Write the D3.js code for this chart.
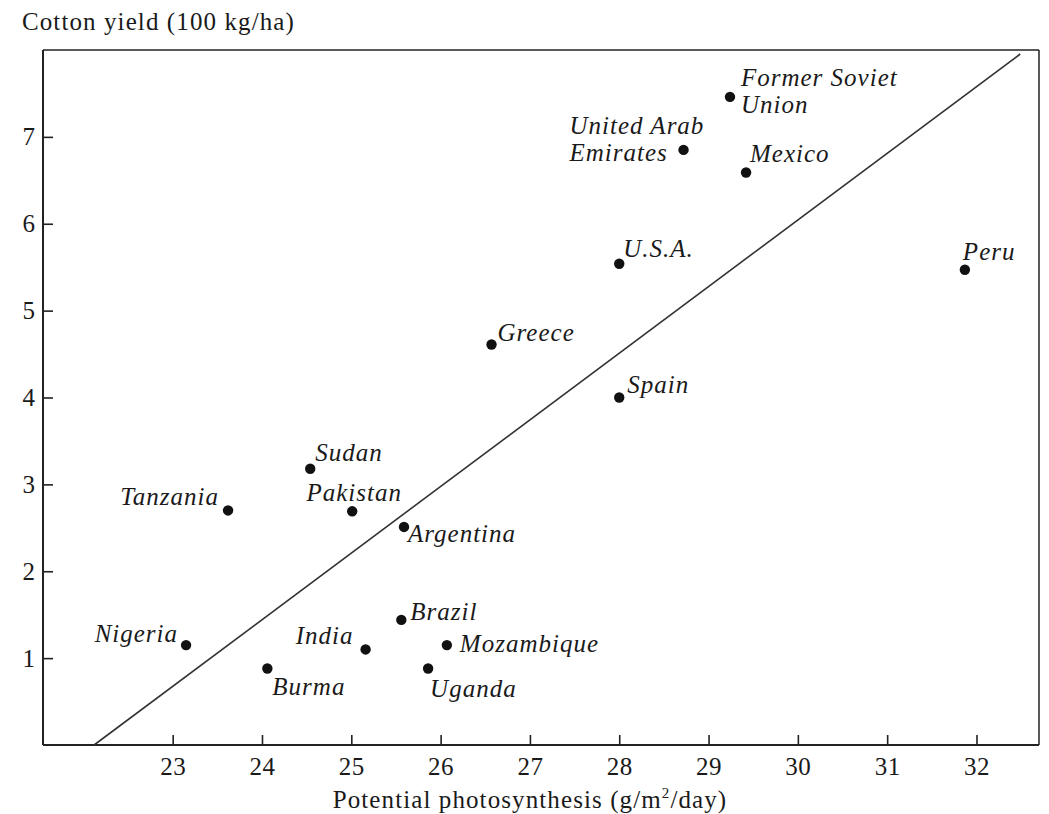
<!DOCTYPE html>
<html>
<head>
<meta charset="utf-8">
<script src="https://cdn.jsdelivr.net/npm/d3@7"></script>
<style>
  html, body { margin: 0; padding: 0; background: #fff; }
  svg { display: block; }
  text { font-family: "Liberation Serif", "Times New Roman", serif; fill: #1a1a1a; }
</style>
</head>
<body>
<svg id="chart" width="1049" height="814"></svg>
<script>
// Cotton yield versus potential photosynthesis, by country
const countries = ["Former Soviet Union", "United Arab Emirates", "Mexico", "U.S.A.", "Peru",
  "Greece", "Spain", "Sudan", "Tanzania", "Pakistan", "Argentina", "Brazil",
  "Nigeria", "Mozambique", "India", "Burma", "Uganda"];
const photosynthesis = [29.24, 28.72, 29.42, 28.0, 31.87,
  26.57, 28.0, 24.54, 23.62, 25.01, 25.59, 25.56,
  23.15, 26.07, 25.16, 24.06, 25.86];
const cottonYield = [7.46, 6.85, 6.59, 5.54, 5.47,
  4.61, 4.0, 3.18, 2.70, 2.69, 2.51, 1.44,
  1.15, 1.15, 1.10, 0.88, 0.88];

const xTicks = [23, 24, 25, 26, 27, 28, 29, 30, 31, 32];
const yTicks = [1, 2, 3, 4, 5, 6, 7];

// fitted trend line: yield = slope * photosynthesis + intercept
const trendSlope = 0.767;
const trendIntercept = -16.966;
const trendXEnd = 32.49;

// label placement relative to each dot (text lines, offsets, anchor)
const labelLayout = {
  "Former Soviet Union": { lines: ["Former Soviet", "Union"], dx: 11, dy: -11, anchor: "start" },
  "United Arab Emirates": { lines: ["United Arab", "Emirates"], dx: -114, dy: -16, anchor: "start" },
  "Mexico": { lines: ["Mexico"], dx: 4, dy: -10, anchor: "start" },
  "U.S.A.": { lines: ["U.S.A."], dx: 4, dy: -7, anchor: "start" },
  "Peru": { lines: ["Peru"], dx: -2, dy: -10, anchor: "start" },
  "Greece": { lines: ["Greece"], dx: 6, dy: -4, anchor: "start" },
  "Spain": { lines: ["Spain"], dx: 8, dy: -5, anchor: "start" },
  "Sudan": { lines: ["Sudan"], dx: 5, dy: -8, anchor: "start" },
  "Tanzania": { lines: ["Tanzania"], dx: -9, dy: -5, anchor: "end" },
  "Pakistan": { lines: ["Pakistan"], dx: 2, dy: -10, anchor: "middle" },
  "Argentina": { lines: ["Argentina"], dx: 4, dy: 15, anchor: "start" },
  "Brazil": { lines: ["Brazil"], dx: 9, dy: 0, anchor: "start" },
  "Nigeria": { lines: ["Nigeria"], dx: -8, dy: -3, anchor: "end" },
  "Mozambique": { lines: ["Mozambique"], dx: 13, dy: 7, anchor: "start" },
  "India": { lines: ["India"], dx: -12, dy: -5, anchor: "end" },
  "Burma": { lines: ["Burma"], dx: 5, dy: 26, anchor: "start" },
  "Uganda": { lines: ["Uganda"], dx: 2, dy: 28, anchor: "start" }
};

const svg = d3.select("#chart");
const plot = { left: 43, right: 1039, top: 50, bottom: 745 };

const x = d3.scaleLinear().domain([21.548, 32.7]).range([plot.left, plot.right]);
const y = d3.scaleLinear().domain([0, 8]).range([plot.bottom, plot.top]);

const axisColor = "#222";

// frame: heavier left and bottom, lighter top and right
svg.append("line").attr("x1", plot.left).attr("x2", plot.right).attr("y1", plot.top).attr("y2", plot.top)
  .attr("stroke", axisColor).attr("stroke-width", 1.5);
svg.append("line").attr("x1", plot.right).attr("x2", plot.right).attr("y1", plot.top).attr("y2", plot.bottom)
  .attr("stroke", axisColor).attr("stroke-width", 1.5);

// x axis with inward ticks
const xAxis = svg.append("g")
  .attr("transform", `translate(0,${plot.bottom})`)
  .call(d3.axisBottom(x).tickValues(xTicks).tickSizeInner(-10).tickSizeOuter(0).tickPadding(20)
    .tickFormat(d3.format("d")));
xAxis.select(".domain").attr("stroke", axisColor).attr("stroke-width", 2)
  .attr("d", `M${plot.left},0H${plot.right}`);
xAxis.selectAll(".tick line").attr("stroke", axisColor).attr("stroke-width", 1.6);
xAxis.selectAll(".tick text").attr("font-size", 25).attr("letter-spacing", 0.5)
  .attr("fill", "#1a1a1a").attr("dy", "0.71em").attr("y", 12);

// y axis with inward ticks
const yAxis = svg.append("g")
  .attr("transform", `translate(${plot.left},0)`)
  .call(d3.axisLeft(y).tickValues(yTicks).tickSizeInner(-10).tickSizeOuter(0).tickPadding(18)
    .tickFormat(d3.format("d")));
yAxis.select(".domain").attr("stroke", axisColor).attr("stroke-width", 2)
  .attr("d", `M0,${plot.top}V${plot.bottom}`);
yAxis.selectAll(".tick line").attr("stroke", axisColor).attr("stroke-width", 1.6);
yAxis.selectAll(".tick text").attr("font-size", 25)
  .attr("fill", "#1a1a1a").attr("x", -8);

// axis titles
svg.append("text").attr("x", 22).attr("y", 30).attr("font-size", 25).attr("letter-spacing", 1.1)
  .text("Cotton yield (100 kg/ha)");
const xt = svg.append("text").attr("x", 530).attr("y", 808).attr("font-size", 25)
  .attr("letter-spacing", 1.1).attr("text-anchor", "middle");
xt.append("tspan").text("Potential photosynthesis (g/m");
xt.append("tspan").attr("font-size", 15).attr("dy", -10).text("2");
xt.append("tspan").attr("dy", 10).text("/day)");

// trend line
const trendX0 = -trendIntercept / trendSlope;
const trend = [trendX0, trendXEnd].map(v => [v, trendSlope * v + trendIntercept]);
svg.append("path")
  .attr("d", d3.line().x(d => x(d[0])).y(d => y(d[1]))(trend))
  .attr("stroke", "#333").attr("stroke-width", 1.6).attr("fill", "none");

// points
const points = countries.map((c, i) => ({ name: c, px: photosynthesis[i], py: cottonYield[i] }));
svg.append("g").selectAll("circle").data(points).join("circle")
  .attr("cx", d => x(d.px)).attr("cy", d => y(d.py)).attr("r", 5.2).attr("fill", "#111");

// labels
const labels = svg.append("g").attr("font-style", "italic").attr("font-size", 25)
  .attr("letter-spacing", 1);
points.forEach(d => {
  const L = labelLayout[d.name];
  const t = labels.append("text")
    .attr("x", x(d.px) + L.dx).attr("y", y(d.py) + L.dy)
    .attr("text-anchor", L.anchor);
  L.lines.forEach((line, k) => {
    t.append("tspan").attr("x", x(d.px) + L.dx).attr("dy", k === 0 ? 0 : 27).text(line);
  });
});
</script>
</body>
</html>
